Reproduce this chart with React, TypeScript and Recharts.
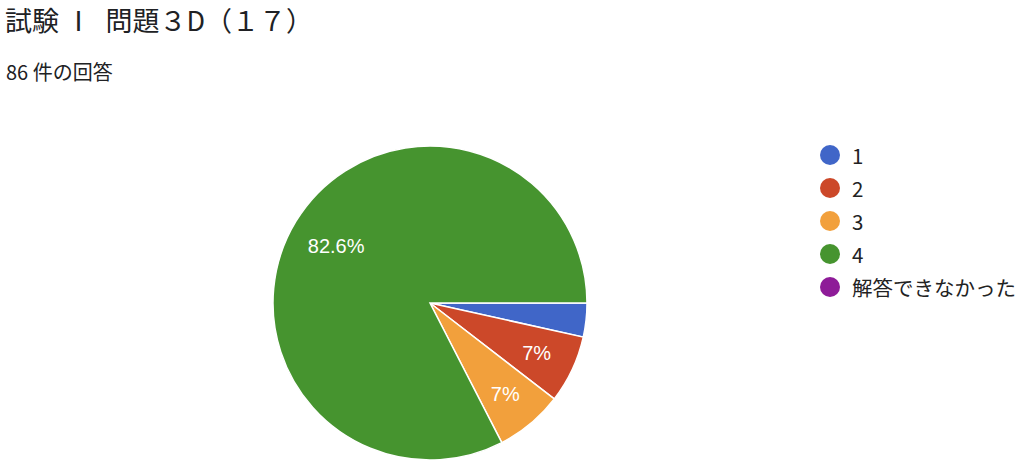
import React from "react";
import { PieChart, Pie, Cell } from "recharts";

const categories = ["1", "2", "3", "4", "解答できなかった"];
const counts = [3, 6, 6, 71, 0];
const colors = ["#4066C8", "#CC4829", "#F2A03C", "#46942F", "#8E1B98"];
const title = "試験 Ⅰ\u2002問題３D（１７）";
const subtitle = "86 件の回答";

const data = categories.map((name, i) => ({ name, value: counts[i] }));
const total = counts.reduce((a, b) => a + b, 0);

const RAD = Math.PI / 180;

const renderLabel = (props: any) => {
  const { cx, cy, midAngle, outerRadius, value } = props;
  const pct = (value / total) * 100;
  if (pct < 5) return null;
  const r = outerRadius * (pct > 50 ? 0.7 : 0.75);
  const x = cx + r * Math.cos(-midAngle * RAD);
  const y = cy + r * Math.sin(-midAngle * RAD);
  let txt = pct.toFixed(1);
  if (txt.endsWith(".0")) txt = txt.slice(0, -2);
  return (
    <text
      x={x}
      y={y}
      fill="#ffffff"
      textAnchor="middle"
      dominantBaseline="central"
      fontSize={20}
      fontFamily="'Liberation Sans', Arial, sans-serif"
    >
      {txt}%
    </text>
  );
};

export default function App() {
  return (
    <div
      style={{
        position: "absolute",
        left: 0,
        top: 0,
        width: 1024,
        height: 472,
        background: "#fff",
        overflow: "hidden",
      }}
    >
      <div
        style={{
          position: "absolute",
          left: 5,
          top: 3,
          fontSize: 27,
          lineHeight: "34px",
          color: "#202124",
          fontFamily: "'Noto Sans CJK JP', sans-serif",
          whiteSpace: "pre",
        }}
      >
        {title}
      </div>
      <div
        style={{
          position: "absolute",
          left: 6,
          top: 59,
          fontSize: 20,
          lineHeight: "26px",
          color: "#202124",
          fontFamily: "'Noto Sans CJK JP', sans-serif",
          whiteSpace: "nowrap",
        }}
      >
        {subtitle}
      </div>
      <div style={{ position: "absolute", left: 0, top: 0 }}>
        <PieChart width={1024} height={472} margin={{ top: 0, right: 0, bottom: 0, left: 0 }}>
          <Pie
            data={data}
            dataKey="value"
            nameKey="name"
            cx={430}
            cy={303}
            outerRadius={157}
            startAngle={0}
            endAngle={-360}
            stroke="#ffffff"
            strokeWidth={1.5}
            label={renderLabel}
            labelLine={false}
            isAnimationActive={false}
          >
            {data.map((d, i) => (
              <Cell key={d.name} fill={colors[i]} />
            ))}
          </Pie>
        </PieChart>
      </div>
      <div
        style={{
          position: "absolute",
          left: 820,
          top: 138,
          fontFamily: "'Noto Sans CJK JP', sans-serif",
        }}
      >
        {categories.map((c, i) => (
          <div key={c} style={{ display: "flex", alignItems: "center", height: 33 }}>
            <span
              style={{
                width: 20,
                height: 20,
                borderRadius: "50%",
                background: colors[i],
                display: "inline-block",
                marginRight: 12,
                flexShrink: 0,
              }}
            />
            <span style={{ fontSize: 20.5, color: "#222", whiteSpace: "nowrap" }}>{c}</span>
          </div>
        ))}
      </div>
    </div>
  );
}
